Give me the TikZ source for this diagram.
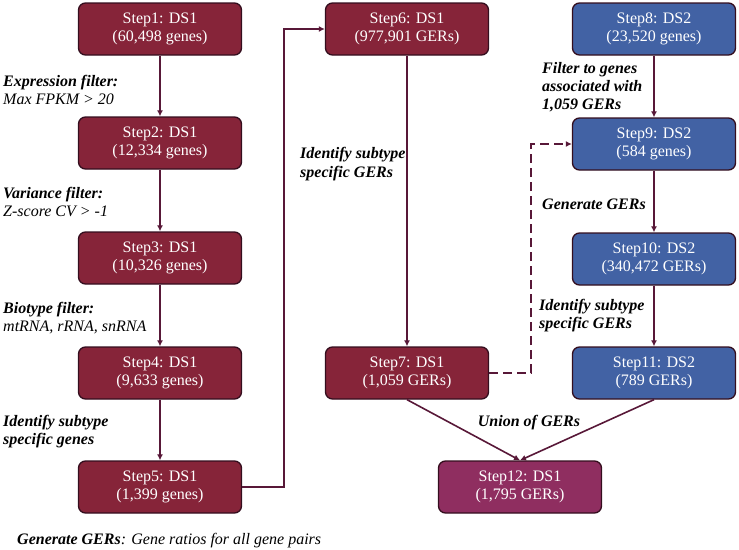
\documentclass[tikz,border=0pt]{standalone}
\usepackage{fontspec}
\setmainfont{Liberation Serif}
\usetikzlibrary{arrows.meta}
\definecolor{dsred}{RGB}{134,36,57}
\definecolor{dsblue}{RGB}{66,98,164}
\definecolor{dspink}{RGB}{143,46,96}
\definecolor{boxline}{RGB}{52,14,30}
\definecolor{arrcol}{RGB}{88,24,56}
\begin{document}
\begin{tikzpicture}[x=1pt,y=-1pt,
  box/.style={draw=boxline, line width=1.3pt, rounded corners=7pt, minimum width=163pt, minimum height=52pt, inner sep=0pt, align=center, text=white, font=\fontsize{16}{18}\selectfont},
  redbox/.style={box, fill=dsred},
  bluebox/.style={box, fill=dsblue},
  pinkbox/.style={box, fill=dspink},
  arr/.style={draw=arrcol, line width=1.6pt, -{Latex[length=6pt,width=6pt]}},
  dasharr/.style={arr, dash pattern=on 9pt off 5pt},
  lab/.style={font=\fontsize{16}{18}\selectfont\itshape, anchor=base west, inner sep=0pt, text=black},
  blab/.style={lab, font=\fontsize{16}{18}\selectfont\bfseries\itshape}
]
\useasboundingbox (0,0) rectangle (739,549);
% boxes
\node[redbox] (s1) at (160,29) {Step1: DS1\\(60,498 genes)};
\node[redbox] (s2) at (160,143) {Step2: DS1\\(12,334 genes)};
\node[redbox] (s3) at (160,258) {Step3: DS1\\(10,326 genes)};
\node[redbox] (s4) at (160,373) {Step4: DS1\\(9,633 genes)};
\node[redbox] (s5) at (160,487) {Step5: DS1\\(1,399 genes)};
\node[redbox] (s6) at (407,29) {Step6: DS1\\(977,901 GERs)};
\node[redbox] (s7) at (407,373) {Step7: DS1\\(1,059 GERs)};
\node[bluebox] (s8) at (654,29) {Step8: DS2\\(23,520 genes)};
\node[bluebox] (s9) at (654,144) {Step9: DS2\\(584 genes)};
\node[bluebox] (s10) at (654,259) {Step10: DS2\\(340,472 GERs)};
\node[bluebox] (s11) at (654,373) {Step11: DS2\\(789 GERs)};
\node[pinkbox] (s12) at (520,487) {Step12: DS1\\(1,795 GERs)};
% arrows
\draw[arr] (s1) -- (s2);
\draw[arr] (s2) -- (s3);
\draw[arr] (s3) -- (s4);
\draw[arr] (s4) -- (s5);
\draw[arr] (s5.east) -- ++(42,0) |- (s6.west);
\draw[arr] (s6) -- (s7);
\draw[arr] (s8) -- (s9);
\draw[arr] (s9) -- (s10);
\draw[arr] (s10) -- (s11);
\draw[dasharr] (s7.east) -- ++(42,0) |- (s9.west);
\draw[arr] (s7.south) -- (s12.north);
\draw[arr] (s11.south) -- (s12.north);
% labels
\node[blab] (l1a) at (3,86) {Expression filter:};
\node[lab] (l1b) at (3,104) {Max FPKM > 20};
\node[blab] (l2a) at (3,198) {Variance filter:};
\node[lab] (l2b) at (3,216) {Z-score CV > -1};
\node[blab] (l3a) at (3,313) {Biotype filter:};
\node[lab] (l3b) at (3,331) {mtRNA, rRNA, snRNA};
\node[blab] (l4a) at (3,426) {Identify subtype};
\node[blab] (l4b) at (3,444) {specific genes};
\node[blab] (l5a) at (300,158) {Identify subtype};
\node[blab] (l5b) at (300,177) {specific GERs};
\node[blab] (l6a) at (542,73) {Filter to genes};
\node[blab] (l6b) at (542,91) {associated with};
\node[blab] (l6c) at (542,109) {1,059 GERs};
\node[blab] (l7) at (542,209) {Generate GERs};
\node[blab] (l8a) at (539,310) {Identify subtype};
\node[blab] (l8b) at (539,328) {specific GERs};
\node[blab, anchor=base] (l9) at (529,426) {Union of GERs};
\node[lab] (l10) at (17,544) {\textbf{Generate GERs}: Gene ratios for all gene pairs};
\end{tikzpicture}
\end{document}
